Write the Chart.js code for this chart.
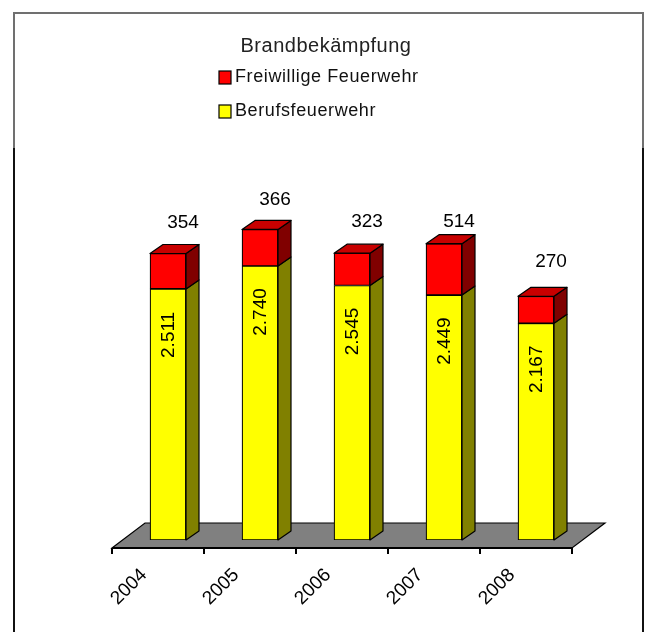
<!DOCTYPE html>
<html>
<head>
<meta charset="utf-8">
<script src="https://cdn.jsdelivr.net/npm/chart.js@4.4.0/dist/chart.umd.min.js"></script>
<style>
  html, body { margin: 0; padding: 0; background: #fff; }
  #wrap { position: relative; width: 648px; height: 632px; overflow: hidden; }
  #wrap canvas { position: absolute; left: 0; top: 0; }
  .frameTop { position: absolute; left: 13px; top: 12px; width: 627px; height: 134px;
              border: 2px solid #707070; border-bottom: none; }
  .frameL, .frameR { position: absolute; top: 148px; width: 2px; height: 500px; background: #111; }
  .frameL { left: 13px; }
  .frameR { left: 642px; }
</style>
</head>
<body>
<div id="wrap">
  <div class="frameTop"></div>
  <div class="frameL"></div>
  <div class="frameR"></div>
  <canvas id="c" width="648" height="632"></canvas>
</div>
<script>
const years = ["2004", "2005", "2006", "2007", "2008"];
const berufsfeuerwehr = [2511, 2740, 2545, 2449, 2167];
const freiwillige = [354, 366, 323, 514, 270];
const chartTitle = "Brandbekämpfung";
const yMax = 3500;

const FONT = '"Liberation Sans", Arial, sans-serif';
const depth = { dx: 13, dy: -9 };       // bar depth
const floorDepth = { dx: 33, dy: -25 };  // floor depth

function fmtDE(v) { return String(v).replace(/\B(?=(\d{3})+(?!\d))/g, "."); }

function poly(ctx, pts, fill) {
  ctx.beginPath();
  ctx.moveTo(pts[0][0], pts[0][1]);
  for (let i = 1; i < pts.length; i++) ctx.lineTo(pts[i][0], pts[i][1]);
  ctx.closePath();
  ctx.fillStyle = fill;
  ctx.fill();
  ctx.stroke();
}

const bars3d = {
  id: "bars3d",
  beforeDatasetsDraw(chart) {
    const { ctx, chartArea: { left, right, bottom } } = chart;
    const fx0 = left - 10, fx1 = right - 10, fy = bottom + 8;
    ctx.save();
    ctx.strokeStyle = "#000";
    ctx.lineWidth = 1.2;
    poly(ctx, [[fx0, fy], [fx0 + floorDepth.dx, fy + floorDepth.dy],
               [fx1 + floorDepth.dx, fy + floorDepth.dy], [fx1, fy]], "#808080");
    // axis line + ticks
    ctx.lineWidth = 2;
    ctx.beginPath();
    ctx.moveTo(fx0, fy); ctx.lineTo(fx1, fy);
    const step = (fx1 - fx0) / years.length;
    for (let i = 0; i <= years.length; i++) {
      ctx.moveTo(fx0 + i * step, fy); ctx.lineTo(fx0 + i * step, fy + 6);
    }
    ctx.stroke();
    ctx.restore();
  },
  afterDatasetsDraw(chart) {
    const { ctx } = chart;
    const sideCols = ["#808000", "#800000"];
    const n = chart.data.datasets.length;
    ctx.save();
    ctx.strokeStyle = "#000";
    ctx.lineWidth = 1.2;
    ctx.lineJoin = "round";
    for (let d = 0; d < n; d++) {
      chart.getDatasetMeta(d).data.forEach((el) => {
        const { x, y, base, width } = el.getProps(["x", "y", "base", "width"], true);
        const l = x - width / 2, r = x + width / 2;
        poly(ctx, [[r, y], [r + depth.dx, y + depth.dy], [r + depth.dx, base + depth.dy], [r, base]], sideCols[d]);
        if (d === n - 1) {
          poly(ctx, [[l, y], [l + depth.dx, y + depth.dy], [r + depth.dx, y + depth.dy], [r, y]], "#c80000");
        }
      });
    }
    // value labels
    ctx.fillStyle = "#000";
    ctx.font = "19px " + FONT;
    chart.getDatasetMeta(1).data.forEach((el, i) => {
      const { x, y, base } = el.getProps(["x", "y", "base"], true);
      ctx.textAlign = "center";
      ctx.textBaseline = "middle";
      ctx.fillText(String(freiwillige[i]), x + 15, (y + base) / 2 - 48);
    });
    chart.getDatasetMeta(0).data.forEach((el, i) => {
      const { x, y } = el.getProps(["x", "y"], true);
      ctx.save();
      ctx.translate(x + 1, y + 46);
      ctx.rotate(-Math.PI / 2);
      ctx.textAlign = "center";
      ctx.textBaseline = "middle";
      ctx.fillText(fmtDE(berufsfeuerwehr[i]), 0, 0);
      ctx.restore();
    });
    ctx.restore();
  },
  afterDraw(chart) {
    const { ctx } = chart;
    const xs = chart.scales.x;
    ctx.save();
    ctx.fillStyle = "#000";
    // category labels
    ctx.font = "19px " + FONT;
    years.forEach((lab, i) => {
      const cx = xs.getPixelForValue(i);
      ctx.save();
      ctx.translate(cx - 24, 572);
      ctx.rotate(-Math.PI / 4);
      ctx.textAlign = "right";
      ctx.textBaseline = "middle";
      ctx.fillText(lab, 0, 0);
      ctx.restore();
    });
    // title + legend
    ctx.fillStyle = "#222";
    ctx.font = "20px " + FONT;
    ctx.textAlign = "center";
    ctx.textBaseline = "alphabetic";
    ctx.letterSpacing = "0.5px";
    ctx.fillText(chartTitle, 326, 52);
    ctx.font = "18px " + FONT;
    ctx.textAlign = "left";
    ctx.letterSpacing = "0.6px";
    const items = chart.data.datasets.slice().reverse();
    items.forEach((ds, i) => {
      const top = 71 + i * 34;
      ctx.fillStyle = ds.backgroundColor;
      ctx.strokeStyle = "#000";
      ctx.lineWidth = 1.2;
      ctx.fillRect(219, top, 12, 13);
      ctx.strokeRect(219, top, 12, 13);
      ctx.fillStyle = "#111";
      ctx.fillText(ds.label, 235, top + 11);
    });
    ctx.restore();
  }
};

new Chart(document.getElementById("c"), {
  type: "bar",
  data: {
    labels: years,
    datasets: [
      { label: "Berufsfeuerwehr", data: berufsfeuerwehr, backgroundColor: "#ffff00",
        borderColor: "#000", borderWidth: 1.2, borderSkipped: false, barThickness: 36 },
      { label: "Freiwillige Feuerwehr", data: freiwillige, backgroundColor: "#ff0000",
        borderColor: "#000", borderWidth: 1.2, borderSkipped: false, barThickness: 36 }
    ]
  },
  options: {
    responsive: false,
    animation: false,
    layout: { padding: { left: 122, right: 66, top: 190, bottom: 92 } },
    plugins: { legend: { display: false }, tooltip: { enabled: false } },
    scales: {
      x: { stacked: true, display: false },
      y: { stacked: true, display: false, min: 0, max: yMax }
    }
  },
  plugins: [bars3d]
});
</script>
</body>
</html>
